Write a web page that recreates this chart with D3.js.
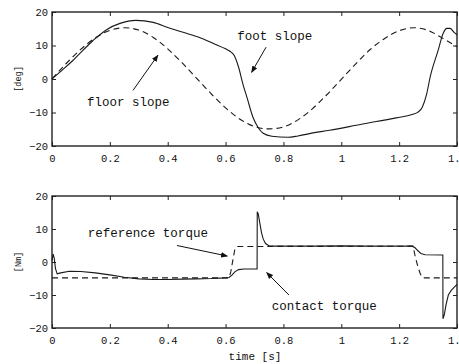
<!DOCTYPE html>
<html>
<head>
<meta charset="utf-8">
<script src="https://cdn.jsdelivr.net/npm/d3@7"></script>
<style>
  body { margin: 0; background: #fff; }
  svg { display: block; }
  .tick text { font-family: "Liberation Mono", "DejaVu Sans Mono", monospace; font-size: 10.5px; fill: #111; }
  .tick line { stroke: #222; stroke-width: 1; }
  .note { font-family: "Liberation Mono", "DejaVu Sans Mono", monospace; font-size: 12.5px; fill: #111; }
</style>
</head>
<body>
<div id="chart"></div>
<script>
// ---- data ----
const xTicks = [0, 0.2, 0.4, 0.6, 0.8, 1, 1.2, 1.4];
const yTicks = [-20, -10, 0, 10, 20];

// top panel: slopes [deg]
const tFloor = [0, 0.05, 0.1, 0.15, 0.2, 0.25, 0.3, 0.35, 0.4, 0.45, 0.5, 0.55, 0.6, 0.65, 0.7,
  0.75, 0.8, 0.85, 0.9, 0.95, 1.0, 1.05, 1.1, 1.15, 1.2, 1.25, 1.3, 1.35, 1.4];
const floorSlope = [0, 4.7, 8.9, 12.3, 14.5, 15.3, 14.6, 12.4, 9.0, 4.8, 0.2, -4.4, -8.6, -12.0, -14.2,
  -14.9, -14.3, -12.2, -8.9, -4.7, -0.1, 4.5, 8.8, 12.1, 14.4, 15.3, 14.5, 12.2, 9.6];

const tFoot = [0, 0.04, 0.073, 0.142, 0.19, 0.235, 0.29, 0.35, 0.4, 0.45, 0.51, 0.56, 0.6, 0.615,
  0.63, 0.645, 0.66, 0.675, 0.695, 0.712, 0.73, 0.76, 0.815, 0.85, 0.89, 0.96, 1.07, 1.19, 1.245,
  1.265, 1.28, 1.295, 1.307, 1.335, 1.352, 1.365, 1.376, 1.39, 1.4];
const footSlope = [0, 3.0, 5.6, 11.5, 14.8, 16.6, 17.5, 16.9, 15.4, 14.0, 12.4, 10.5, 9.0, 8.3,
  7.0, 3.5, -1.5, -5.8, -11.5, -14.4, -16.2, -17.1, -17.4, -17.0, -16.3, -15.3, -13.5, -11.6, -10.6,
  -9.9, -8.4, -4.5, 0.5, 8.6, 13.6, 15.1, 15.1, 13.9, 13.2];

// bottom panel: torques [Nm]
const tRef = [0, 0.612, 0.618, 0.625, 0.632, 0.64, 1.248, 1.256, 1.265, 1.273, 1.282, 1.4];
const refTorque = [-4.8, -4.8, -3.0, 0.5, 3.8, 4.7, 4.8, 1.5, -1.5, -3.6, -4.8, -4.8];

const tContact = [0, 0.004, 0.008, 0.012, 0.018, 0.03, 0.06, 0.1, 0.15, 0.2, 0.25, 0.3, 0.35, 0.4,
  0.45, 0.5, 0.55, 0.6, 0.612, 0.622, 0.632, 0.645, 0.665, 0.709, 0.7095, 0.713, 0.718, 0.724, 0.73,
  0.738, 0.75, 0.77, 0.9, 1.0, 1.1, 1.245, 1.255, 1.265, 1.275, 1.29, 1.351, 1.3515, 1.356, 1.362,
  1.37, 1.38, 1.39, 1.4];
const contactTorque = [0.5, 2.4, 1.0, -2.0, -3.6, -3.3, -2.8, -2.9, -3.3, -3.9, -4.6, -5.1, -5.3, -5.3,
  -5.2, -5.1, -5.0, -4.8, -4.7, -4.0, -3.0, -2.3, -2.1, -2.1, 15.2, 14.6, 12.0, 9.0, 7.0,
  5.6, 4.9, 4.8, 4.8, 4.9, 4.8, 4.8, 4.3, 3.4, 2.6, 2.2, 2.1, -17.2, -16.0, -13.0,
  -10.0, -8.6, -7.7, -6.8];

const zip = (ts, vs) => ts.map((t, i) => [t, vs[i]]);

// ---- layout ----
const svgWidth = 459;
const svgHeight = 364;
const left = 52, right = 457;

const panels = [
  {
    top: 12, bottom: 146, ylabel: '[deg]',
    series: [
      { data: zip(tFloor, floorSlope), dashed: true, smooth: true },
      { data: zip(tFoot, footSlope), dashed: false, smooth: true }
    ],
    notes: [
      { text: 'foot slope', at: [0.64, 11.6], arrow: [[0.74, 9.5], [0.69, 2.0]] },
      { text: 'floor slope', at: [0.121, -8.1], arrow: [[0.28, -3.4], [0.366, 7.1]] }
    ]
  },
  {
    top: 196, bottom: 328, ylabel: '[Nm]',
    series: [
      { data: zip(tRef, refTorque), dashed: true, smooth: false },
      { data: zip(tContact, contactTorque), dashed: false, smooth: false }
    ],
    notes: [
      { text: 'reference torque', at: [0.124, 7.6], arrow: [[0.432, 5.0], [0.606, 1.8]] },
      { text: 'contact torque', at: [0.76, -14.5], arrow: [[0.819, -10.0], [0.742, -3.2]] }
    ]
  }
];

const svg = d3.select('#chart').append('svg')
  .attr('width', svgWidth)
  .attr('height', svgHeight);

svg.append('defs').append('marker')
  .attr('id', 'head')
  .attr('viewBox', '0 0 10 10')
  .attr('refX', 9).attr('refY', 5)
  .attr('markerWidth', 7).attr('markerHeight', 7)
  .attr('markerUnits', 'userSpaceOnUse')
  .attr('orient', 'auto')
  .append('path')
  .attr('d', 'M0,1 L10,5 L0,9 z')
  .attr('fill', '#111');

const x = d3.scaleLinear().domain([0, 1.4]).range([left, right]);

panels.forEach(p => {
  const y = d3.scaleLinear().domain([-20, 20]).range([p.bottom, p.top]);
  const g = svg.append('g');

  // inward ticks on all four sides
  g.append('g').attr('transform', 'translate(0,' + p.bottom + ')')
    .call(d3.axisBottom(x).tickValues(xTicks).tickFormat(d3.format('~g'))
      .tickSizeInner(-4).tickSizeOuter(0).tickPadding(9));
  g.append('g').attr('transform', 'translate(0,' + p.top + ')')
    .call(d3.axisTop(x).tickValues(xTicks).tickFormat('').tickSizeInner(-4).tickSizeOuter(0));
  g.append('g').attr('transform', 'translate(' + left + ',0)')
    .call(d3.axisLeft(y).tickValues(yTicks).tickSizeInner(-4).tickSizeOuter(0).tickPadding(4));
  g.append('g').attr('transform', 'translate(' + right + ',0)')
    .call(d3.axisRight(y).tickValues(yTicks).tickFormat('').tickSizeInner(-4).tickSizeOuter(0));
  g.selectAll('.domain').remove();

  g.append('rect')
    .attr('x', left).attr('y', p.top)
    .attr('width', right - left).attr('height', p.bottom - p.top)
    .attr('fill', 'none').attr('stroke', '#222').attr('stroke-width', 1.4);

  p.series.forEach(s => {
    const line = d3.line()
      .x(d => x(d[0]))
      .y(d => y(d[1]))
      .curve(s.smooth ? d3.curveMonotoneX : d3.curveLinear);
    g.append('path')
      .datum(s.data)
      .attr('d', line)
      .attr('fill', 'none')
      .attr('stroke', '#1a1a1a')
      .attr('stroke-width', 1.1)
      .attr('stroke-dasharray', s.dashed ? '6,4' : null);
  });

  p.notes.forEach(n => {
    g.append('text').attr('class', 'note')
      .attr('x', x(n.at[0])).attr('y', y(n.at[1]))
      .text(n.text);
    g.append('line')
      .attr('x1', x(n.arrow[0][0])).attr('y1', y(n.arrow[0][1]))
      .attr('x2', x(n.arrow[1][0])).attr('y2', y(n.arrow[1][1]))
      .attr('stroke', '#111').attr('stroke-width', 1)
      .attr('marker-end', 'url(#head)');
  });

  svg.append('text').attr('class', 'note')
    .attr('transform', 'translate(21,' + y(0) + ') rotate(-90)')
    .attr('text-anchor', 'middle')
    .style('font-size', '8.5px')
    .text(p.ylabel);
});

svg.append('text').attr('class', 'note')
  .attr('x', 255).attr('y', 360)
  .attr('text-anchor', 'middle')
  .style('font-size', '11px')
  .text('time [s]');
</script>
</body>
</html>
